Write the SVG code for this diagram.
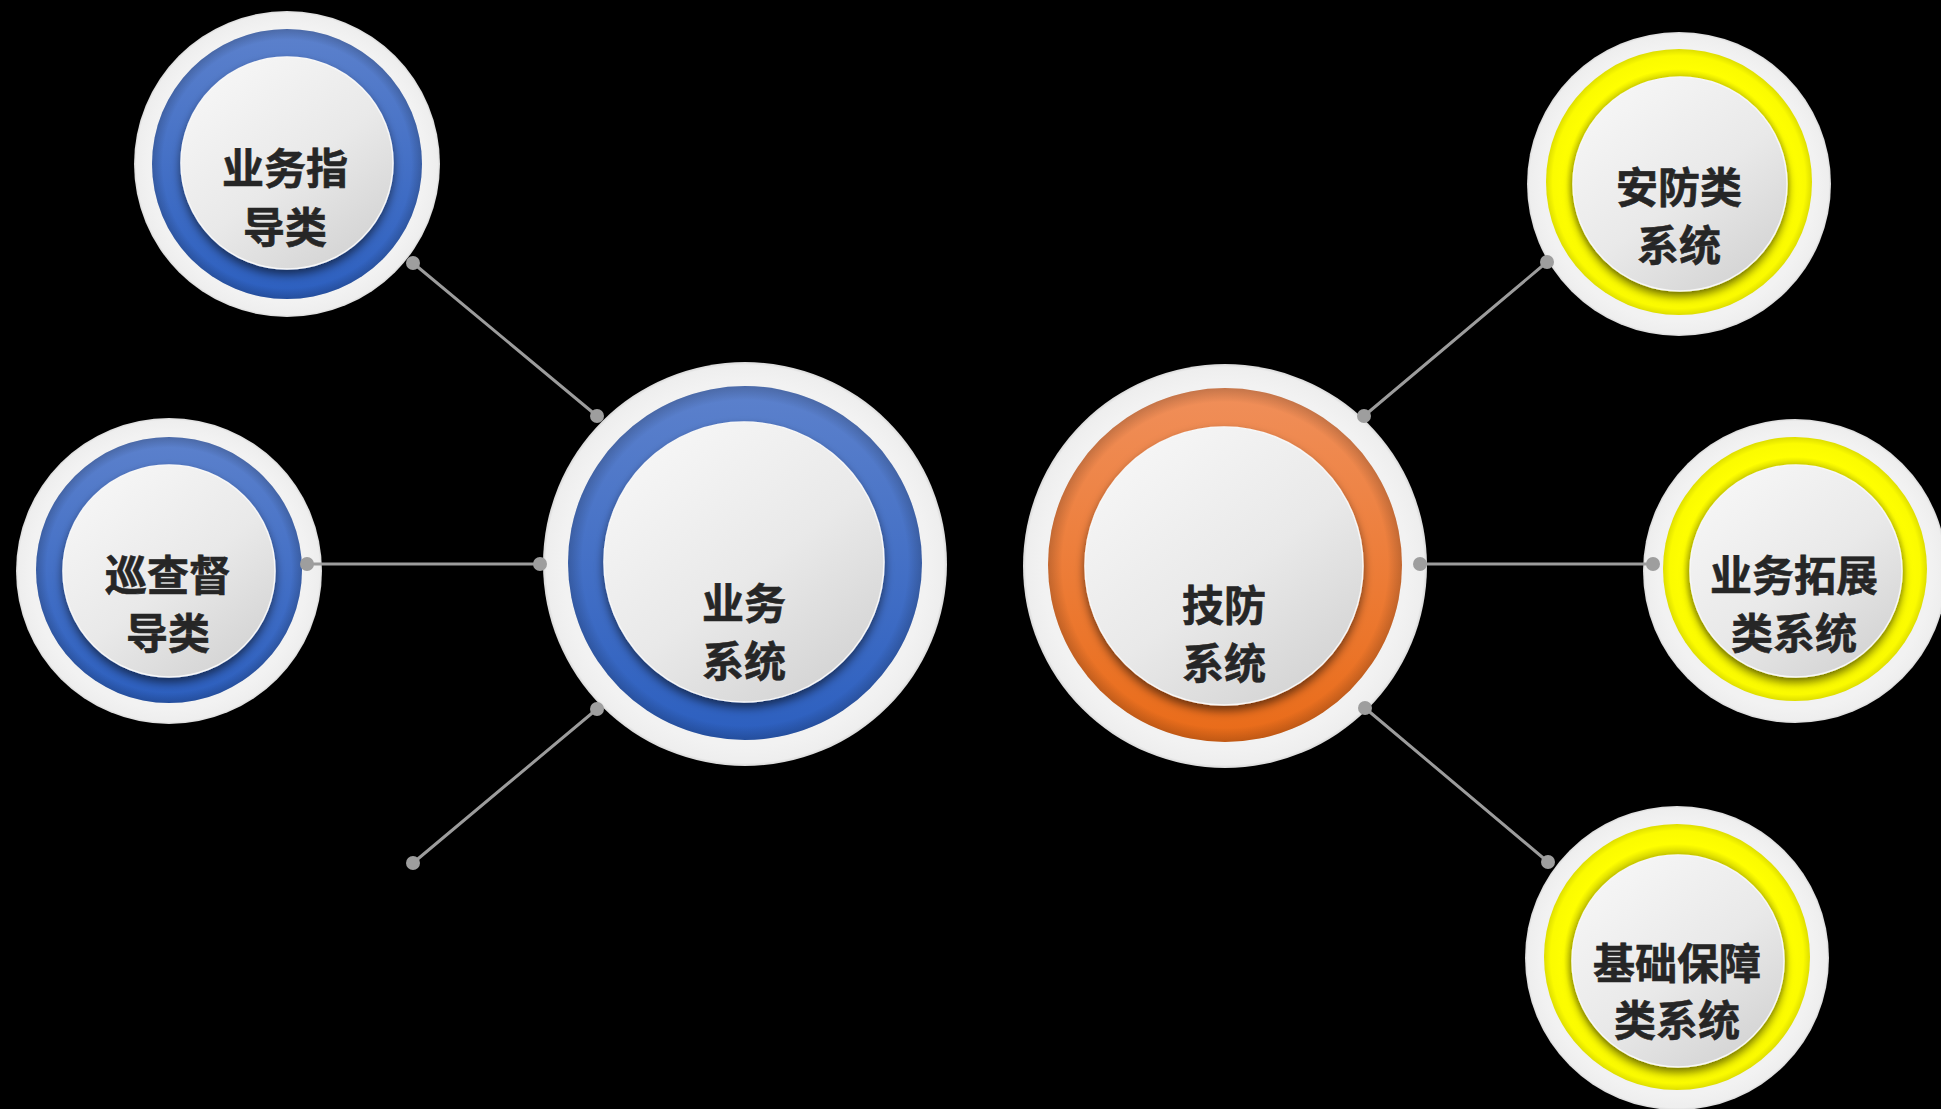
<svg xmlns="http://www.w3.org/2000/svg" width="1941" height="1109" viewBox="0 0 1941 1109">
  <defs>
    <linearGradient id="gBlue" x1="0" y1="0" x2="0" y2="1">
      <stop offset="0" stop-color="#5c81cc"/>
      <stop offset="1" stop-color="#2c5fbf"/>
    </linearGradient>
    <linearGradient id="gOrange" x1="0" y1="0" x2="0" y2="1">
      <stop offset="0" stop-color="#f08f5a"/>
      <stop offset="1" stop-color="#e96b18"/>
    </linearGradient>
    <radialGradient id="gYellow" cx="0.5" cy="0.5" r="0.5">
      <stop offset="0.78" stop-color="#d6d600"/>
      <stop offset="0.85" stop-color="#ffff00"/>
      <stop offset="0.95" stop-color="#fbfb00"/>
      <stop offset="1" stop-color="#dede00"/>
    </radialGradient>
    <radialGradient id="gEdge" cx="0.5" cy="0.5" r="0.5">
      <stop offset="0.92" stop-color="#000" stop-opacity="0"/>
      <stop offset="1" stop-color="#000" stop-opacity="0.18"/>
    </radialGradient>
    <radialGradient id="gOuter" cx="0.5" cy="0.5" r="0.5">
      <stop offset="0.9" stop-color="#f2f2f2"/>
      <stop offset="0.985" stop-color="#eeeeee"/>
      <stop offset="1" stop-color="#d8d8d8"/>
    </radialGradient>
    <linearGradient id="gDisc" x1="0.2" y1="0.1" x2="0.8" y2="0.9">
      <stop offset="0" stop-color="#f5f5f5"/>
      <stop offset="0.55" stop-color="#e9e9e9"/>
      <stop offset="1" stop-color="#d6d6d6"/>
    </linearGradient>
    <filter id="sh" x="-25%" y="-25%" width="150%" height="150%">
      <feDropShadow dx="0" dy="5" stdDeviation="5" flood-color="#000" flood-opacity="0.55"/>
    </filter>
  </defs>
  <style>
    .outer { fill: url(#gOuter); }
    .blue { fill: url(#gBlue); }
    .orange { fill: url(#gOrange); }
    .yellow { fill: url(#gYellow); }
    .edge { fill: url(#gEdge); }
    .disc { fill: url(#gDisc); filter: url(#sh); stroke: #f7f7f7; stroke-width: 1.5; }
    .lbl { font-family: "Noto Sans CJK SC", "Noto Sans", sans-serif; font-weight: 700; font-size: 42px; fill: #262626; text-anchor: middle; stroke: #262626; stroke-width: 0.6; }
    .conn line { stroke: #9c9c9c; stroke-width: 3; stroke-linecap: round; }
    .conn circle { fill: #9e9e9e; }
  </style>
  <rect width="1941" height="1109" fill="#000"/>

  <g id="node-yewu-xitong">
    <circle class="outer" cx="745" cy="564" r="202"/>
    <circle class="blue" cx="745" cy="563" r="177"/>
    <circle class="edge" cx="745" cy="563" r="177"/>
    <circle class="disc" cx="744" cy="562" r="140"/>
    <text class="lbl" x="744" y="619">业务</text>
    <text class="lbl" x="744" y="677">系统</text>
  </g>

  <g id="node-jifang-xitong">
    <circle class="outer" cx="1225" cy="566" r="202"/>
    <circle class="orange" cx="1225" cy="565" r="177"/>
    <circle class="edge" cx="1225" cy="565" r="177"/>
    <circle class="disc" cx="1224" cy="566" r="139"/>
    <text class="lbl" x="1224" y="621">技防</text>
    <text class="lbl" x="1224" y="679">系统</text>
  </g>

  <g id="node-yewu-zhidao">
    <circle class="outer" cx="287" cy="164" r="153"/>
    <circle class="blue" cx="287" cy="164" r="135"/>
    <circle class="edge" cx="287" cy="164" r="135"/>
    <circle class="disc" cx="287" cy="163" r="106"/>
    <text class="lbl" x="285" y="184">业务指</text>
    <text class="lbl" x="285" y="243">导类</text>
  </g>

  <g id="node-xuncha-dudao">
    <circle class="outer" cx="169" cy="571" r="153"/>
    <circle class="blue" cx="169" cy="570" r="133"/>
    <circle class="edge" cx="169" cy="570" r="133"/>
    <circle class="disc" cx="169" cy="571" r="106"/>
    <text class="lbl" x="168" y="591">巡查督</text>
    <text class="lbl" x="168" y="649">导类</text>
  </g>

  <g id="node-anfang">
    <circle class="outer" cx="1679" cy="184" r="152"/>
    <circle class="yellow" cx="1679" cy="182" r="133"/>
    <circle class="disc" cx="1680" cy="184" r="107"/>
    <text class="lbl" x="1679" y="203">安防类</text>
    <text class="lbl" x="1679" y="261">系统</text>
  </g>

  <g id="node-yewu-tuozhan">
    <circle class="outer" cx="1795" cy="571" r="152"/>
    <circle class="yellow" cx="1795" cy="569" r="132"/>
    <circle class="disc" cx="1796" cy="571" r="106"/>
    <text class="lbl" x="1794" y="591">业务拓展</text>
    <text class="lbl" x="1794" y="649">类系统</text>
  </g>

  <g id="node-jichu-baozhang">
    <circle class="outer" cx="1677" cy="958" r="152"/>
    <circle class="yellow" cx="1677" cy="957" r="133"/>
    <circle class="disc" cx="1678" cy="961" r="106"/>
    <text class="lbl" x="1677" y="979">基础保障</text>
    <text class="lbl" x="1677" y="1036">类系统</text>
  </g>

  <g id="connectors" class="conn">
    <line x1="413" y1="263" x2="597" y2="416"/>
    <line x1="307" y1="564" x2="540" y2="564"/>
    <line x1="597" y1="709" x2="413" y2="863"/>
    <line x1="1364" y1="416" x2="1547" y2="262"/>
    <line x1="1420" y1="564" x2="1653" y2="564"/>
    <line x1="1365" y1="708" x2="1548" y2="862"/>
    <circle cx="413" cy="263" r="7"/>
    <circle cx="597" cy="416" r="7"/>
    <circle cx="307" cy="564" r="7"/>
    <circle cx="540" cy="564" r="7"/>
    <circle cx="597" cy="709" r="7"/>
    <circle cx="413" cy="863" r="7"/>
    <circle cx="1364" cy="416" r="7"/>
    <circle cx="1547" cy="262" r="7"/>
    <circle cx="1420" cy="564" r="7"/>
    <circle cx="1653" cy="564" r="7"/>
    <circle cx="1365" cy="708" r="7"/>
    <circle cx="1548" cy="862" r="7"/>
  </g>
</svg>
